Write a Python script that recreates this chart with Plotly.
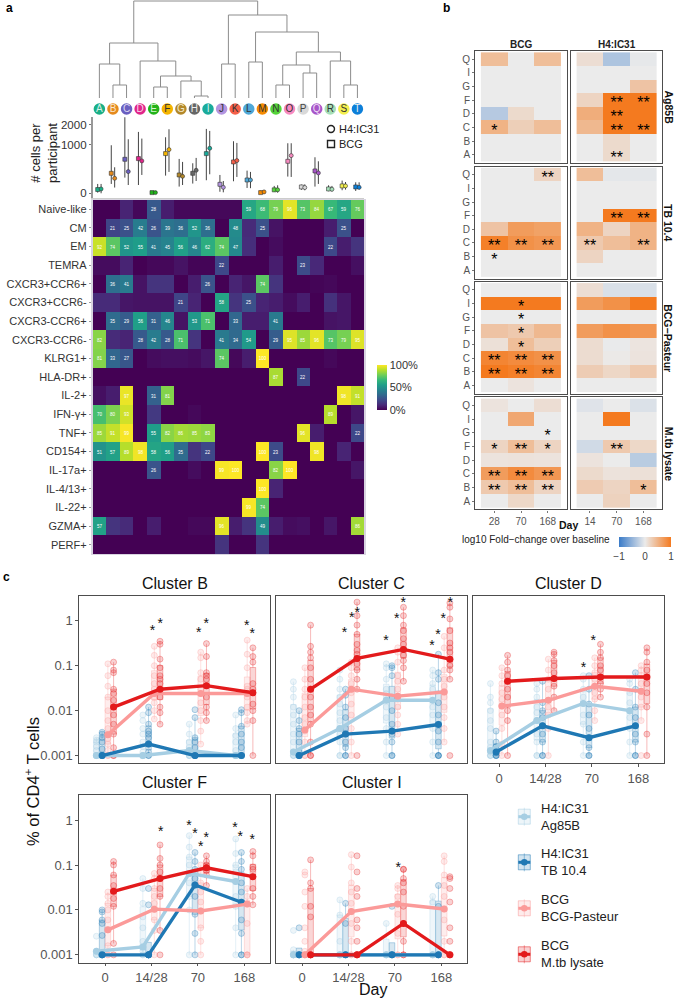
import numpy as np
import plotly.graph_objects as go

W, H = 675, 999

# Panel a: clusters, phenotypes and % of cells per cluster
CLUSTERS = list("ABCDEFGHIJKLMNOPQRST")
CLUSTER_COLORS = ["#1aaf86", "#e58a1d", "#6a5fc0", "#e0268a", "#22b31a", "#f5b400", "#b3882a", "#666666",
                  "#1aab9b", "#b394e0", "#f5604a", "#4fa8d8", "#f58a00", "#55d43a", "#f78ac0", "#d9d9d9",
                  "#a855c8", "#a5dfb8", "#f3ef4e", "#0c7fd9"]
LETTER_COLORS = ["#d8f0e8", "#fbe6cc", "#dcd8f2", "#fbd8ea", "#d8f5d5", "#333333", "#f2e8cc", "#eeeeee",
                 "#d8f2ee", "#333333", "#333333", "#333333", "#333333", "#333333", "#333333", "#444444",
                 "#eeddf5", "#333333", "#333333", "#eeeeee"]
PHENOTYPES = ["Naive-like", "CM", "EM", "TEMRA", "CXCR3+CCR6+", "CXCR3+CCR6-", "CXCR3-CCR6+", "CXCR3-CCR6-",
              "KLRG1+", "HLA-DR+", "IL-2+", "IFN-γ+", "TNF+", "CD154+", "IL-17a+", "IL-4/13+", "IL-22+",
              "GZMA+", "PERF+"]
PHENOTYPE_PCT = [
    [0, 0, 10, 2, 28, 8, 2, 2, 2, 2, 2, 59, 68, 79, 96, 73, 84, 67, 59, 76],
    [0, 21, 25, 42, 26, 39, 36, 52, 36, 0, 48, 12, 25, 5, 0, 0, 0, 8, 25, 0],
    [92, 74, 52, 55, 41, 45, 56, 46, 62, 74, 47, 13, 0, 3, 0, 0, 0, 22, 8, 15],
    [3, 3, 10, 0, 2, 2, 5, 1, 1, 22, 0, 0, 0, 8, 0, 23, 11, 0, 0, 4],
    [0, 36, 41, 5, 15, 15, 0, 8, 26, 0, 10, 6, 74, 15, 0, 0, 1, 2, 0, 0],
    [12, 12, 6, 5, 5, 5, 21, 10, 0, 58, 15, 25, 10, 8, 3, 8, 0, 14, 6, 0],
    [0, 35, 29, 56, 31, 46, 5, 53, 71, 0, 33, 8, 8, 41, 0, 0, 0, 5, 6, 0],
    [82, 12, 10, 28, 42, 28, 71, 15, 0, 41, 34, 54, 0, 29, 95, 85, 96, 73, 79, 95],
    [81, 33, 27, 0, 3, 4, 4, 3, 6, 74, 2, 8, 100, 0, 0, 0, 0, 2, 0, 0],
    [0, 0, 0, 0, 0, 0, 0, 0, 0, 0, 0, 0, 0, 87, 0, 22, 0, 0, 0, 0],
    [4, 8, 97, 0, 31, 81, 0, 0, 0, 0, 0, 0, 0, 0, 0, 0, 0, 0, 98, 91],
    [70, 80, 93, 0, 17, 0, 0, 2, 0, 0, 0, 0, 0, 0, 0, 0, 0, 89, 0, 6],
    [85, 91, 99, 0, 55, 82, 86, 85, 83, 0, 0, 0, 0, 0, 0, 96, 8, 0, 0, 22],
    [51, 57, 89, 98, 58, 56, 35, 15, 22, 0, 0, 0, 100, 23, 0, 0, 98, 0, 10, 0],
    [0, 0, 0, 0, 26, 0, 0, 3, 0, 99, 100, 0, 0, 82, 100, 0, 0, 0, 0, 6],
    [0, 0, 0, 0, 0, 0, 0, 0, 0, 0, 0, 0, 100, 10, 0, 0, 0, 0, 0, 0],
    [0, 0, 0, 0, 0, 0, 0, 0, 0, 0, 0, 99, 74, 0, 0, 0, 0, 0, 0, 0],
    [57, 15, 12, 0, 8, 0, 0, 2, 2, 96, 8, 15, 49, 8, 3, 4, 0, 6, 0, 86],
    [0, 0, 0, 0, 0, 0, 0, 0, 0, 15, 0, 0, 15, 0, 0, 0, 0, 0, 0, 0],
]
# dendrogram merges: (left, right, height); names are leaves or earlier merges
MERGES = [("B", "C", 13), ("A", "m0", 34), ("H", "I", 2), ("G", "m2", 17), ("E", "F", 11), ("m4", "m3", 22),
          ("D", "m5", 37), ("m1", "m6", 55), ("J", "K", 34), ("L", "M", 36), ("N", "O", 13), ("P", "Q", 25),
          ("m10", "m11", 33), ("S", "T", 13), ("R", "m13", 37), ("m12", "m14", 46), ("m9", "m15", 66),
          ("m8", "m16", 83), ("m7", "m17", 97)]
# cells per participant: median, low, high
CELLS_BCG_MED = [6, 169, 489, 509, 0.2, 666, 142, 169, 666, 34, 416, 75, 0.2, 5, 433, 17, 211, 8, 23, 17]
CELLS_BCG_LO = [0.2, 37, 104, 29, 0, 132, 19, 40, 72, 1, 61, 12, 0, 0.8, 118, 5, 19, 1.7, 4, 2.3]
CELLS_BCG_HI = [37, 975, 2445, 1592, 1.7, 1328, 499, 381, 1752, 142, 1145, 217, 3, 23, 1058, 32, 549, 27, 68, 51]
CELLS_H4_MED = [8, 95, 199, 443, 0.2, 807, 122, 224, 857, 15, 452, 75, 0.8, 5, 601, 14, 175, 7, 23, 15]
CELLS_H4_LO = [0, 14, 29, 142, 0, 193, 29, 64, 153, 0.4, 113, 11, 0, 0.2, 113, 3.8, 37, 1.2, 5.7, 5.7]
CELLS_H4_HI = [37, 286, 1234, 1265, 0.4, 1734, 416, 529, 1645, 64, 1072, 193, 4.7, 27, 1058, 34, 433, 23, 54, 51]

# Panel b: log10 fold-change, rows top to bottom
B_ROWS = ["Q", "I", "G", "F", "D", "C", "B", "A"]
B_DAYS_BCG = ["28", "70", "168"]
B_DAYS_H4 = ["14", "70", "168"]
AG85B_BCG = [[.4, 0, .4], [0, 0, 0], [0, 0, 0], [0, 0, 0], [-.3, .15, 0], [.5, .25, .4], [0, 0, 0], [0, 0, 0]]
AG85B_H4 = [[.12, -.35, -.03], [0, 0, 0], [0, 0, .35], [.2, 1, 1], [.55, 1, 1], [.45, 1, 1], [0, .15, 0], [0, .15, 0]]
TB104_BCG = [[0, 0, .2], [0, 0, 0], [0, 0, 0], [0, 0, 0], [.35, .7, .65], [.95, .8, .75], [0, 0, 0], [0, 0, 0]]
TB104_H4 = [[.4, -.04, -.04], [0, 0, 0], [0, 0, 0], [0, 1, 1], [.5, .2, .5], [.3, .4, .5], [.2, 0, 0], [0, 0, 0]]
PASTEUR_BCG = [[0, 0, 0], [1, 1, 1], [0, 0, 0], [.35, .3, .45], [.1, .4, .25], [.9, .85, .8], [1, .95, .9], [0, .07, 0]]
PASTEUR_H4 = [[.12, -.1, -.1], [.7, .8, 1], [0, 0, 0], [.7, .8, .75], [.13, -.01, .06], [.13, .02, .07], [.27, .18, .3], [0, 0, 0]]
MTB_BCG = [[.07, 0, .12], [0, .6, 0], [0, 0, 0], [.2, .4, .2], [.07, .08, .07], [.7, .85, .75], [.3, .4, .2], [0, .17, 0]]
MTB_H4 = [[-.07, 0, -.09], [0, 1, 0], [0, 0, 0], [-.15, .3, .17], [.07, 0, -.28], [.15, .08, .1], [.28, .2, .4], [0, .22, 0]]
# significance stars: (row, column index, text)
AG85B_BCG_STARS = [("C", 0, "*")]
AG85B_H4_STARS = [("F", 1, "**"), ("F", 2, "**"), ("D", 1, "**"), ("C", 1, "**"), ("C", 2, "**"), ("A", 1, "**")]
TB104_BCG_STARS = [("Q", 2, "**"), ("C", 0, "**"), ("C", 1, "**"), ("C", 2, "**"), ("B", 0, "*")]
TB104_H4_STARS = [("F", 1, "**"), ("F", 2, "**"), ("C", 0, "**"), ("C", 2, "**")]
PASTEUR_BCG_STARS = [("I", 1, "*"), ("G", 1, "*"), ("F", 1, "*"), ("D", 1, "*"), ("C", 0, "**"), ("C", 1, "**"),
                     ("C", 2, "**"), ("B", 0, "**"), ("B", 1, "**"), ("B", 2, "**")]
PASTEUR_H4_STARS = []
MTB_BCG_STARS = [("G", 2, "*"), ("F", 0, "*"), ("F", 1, "**"), ("F", 2, "*"), ("C", 0, "**"), ("C", 1, "**"),
                 ("C", 2, "**"), ("B", 0, "**"), ("B", 1, "**"), ("B", 2, "**")]
MTB_H4_STARS = [("F", 1, "**"), ("B", 2, "*")]

# Panel c: % of CD4+ T cells, per day [0, 14/28, 70, 168]
C_DAYS = ["0", "14/28", "70", "168"]
CB_AG85B = [[.001, .001, .001, .001, .0013, .0016, .002, .0022, .0025],
            [.001, .001, .001, .0012, .0016, .002, .003, .004, .006, .008],
            [.001, .001, .001, .0012, .0015, .002, .003, .005],
            [.001, .001, .001, .0013, .002, .0028, .004, .008]]
CB_TB104 = [[.001, .001, .001, .001, .0014, .002, .0025, .003, .0033],
            [.001, .001, .0012, .0018, .0025, .003, .0035, .005, .009, .012],
            [.001, .001, .001, .001, .0015, .002, .0025, .007, .0105],
            [.001, .001, .001, .0015, .002, .003, .0045, .009, .0105]]
CB_PASTEUR = [[.001, .001, .0013, .0018, .0024, .003, .004, .006, .01, .02, .035, .06, .11],
              [.0065, .01, .015, .02, .024, .03, .04, .06, .1, .17, .27],
              [.0018, .0035, .006, .01, .015, .024, .03, .05, .07, .15, .2],
              [.005, .006, .009, .012, .02, .024, .03, .035, .09, .18, .37]]
CB_MTB = [[.001, .001, .0015, .003, .005, .008, .012, .017, .024, .03, .07, .08, .12],
          [.005, .009, .012, .02, .03, .04, .05, .06, .09, .14, .3, .35],
          [.006, .009, .012, .02, .036, .05, .06, .07, .16, .31],
          [.001, .006, .01, .014, .025, .03, .04, .12, .16, .25]]
CB_AG85B_MED = [.001, .001, .0013, .001]
CB_TB104_MED = [.001, .0018, .001, .001]
CB_PASTEUR_MED = [.0029, .024, .024, .024]
CB_MTB_MED = [.012, .03, .036, .025]
CB_STAR_X = [1.02, 1.19, 2.02, 2.18, 3.05, 3.17]
CB_STAR_Y = [.71, 1, .63, 1, .89, .6]

CC_AG85B = [[.001, .001, .001, .0012, .002, .003, .005, .008, .012, .02, .03, .044],
            [.001, .001, .002, .003, .004, .006, .009, .014, .02, .03, .05, .08],
            [.001, .002, .004, .007, .012, .017, .024, .03, .05, .09, .11],
            [.001, .002, .004, .008, .012, .017, .03, .04, .06, .08]]
CC_TB104 = [[.001, .001, .001, .0012, .002, .003, .004, .006, .01],
            [.001, .001, .0015, .002, .003, .004, .007, .012, .022, .03],
            [.001, .001, .002, .003, .0035, .005, .01, .02, .06, .09, .1],
            [.001, .001, .001, .002, .0035, .005, .008, .015, .05, .07, .18]]
CC_PASTEUR = [[.001, .001, .002, .0035, .005, .007, .012, .02, .03, .05, .09],
              [.001, .002, .004, .008, .014, .025, .03, .04, .06, .09, .12],
              [.003, .005, .008, .012, .018, .021, .03, .045, .06, .12, .2, .25],
              [.002, .004, .007, .012, .02, .026, .035, .05, .08, .25, .45]]
CC_MTB = [[.001, .001, .002, .005, .008, .012, .02, .03, .05, .09, .15, .2, .27, .8],
          [.001, .03, .05, .08, .11, .145, .18, .22, .3, .5, .8, 1.3, 2.6],
          [.045, .09, .13, .17, .23, .3, .4, .6, .8, 1.3, 2],
          [.001, .05, .08, .1, .14, .2, .25, .32, .6, 1.1, 2, 2.5]]
CC_AG85B_MED = [.0012, .004, .017, .017]
CC_TB104_MED = [.001, .003, .0035, .0049]
CC_PASTEUR_MED = [.0037, .03, .021, .026]
CC_MTB_MED = [.03, .145, .23, .14]
CC_STAR_X = [.914, 1.07, 1.19, 1.81, 2.04, 2.18, 2.8, 2.93, 3.04, 3.19]
CC_STAR_Y = [.63, 1.36, 1.76, .42, 1.29, 2.88, .32, .58, 1.32, 3.02]

CD_AG85B = [[.001, .001, .001, .0012, .0015, .002, .004, .006, .01, .015, .02, .04],
            [.001, .001, .002, .003, .006, .009, .012, .02, .03, .04],
            [.001, .002, .005, .008, .0145, .02, .03, .05, .06],
            [.001, .002, .004, .007, .01, .015, .025, .04, .05]]
CD_TB104 = [[.001, .001, .001, .0012, .0016, .002, .0035],
            [.001, .001, .002, .003, .0046, .007, .01, .015, .045],
            [.001, .001, .0015, .0025, .004, .008, .014, .03, .06],
            [.001, .001, .002, .003, .0046, .007, .012, .03, .07]]
CD_PASTEUR = [[.001, .0018, .004, .008, .0126, .018, .025, .04, .06, .09],
              [.001, .004, .008, .012, .017, .03, .05, .08, .14],
              [.006, .01, .018, .025, .035, .05, .07, .1, .15],
              [.001, .006, .012, .02, .027, .04, .06, .08, .1]]
CD_MTB = [[.001, .006, .01, .02, .03, .045, .06, .08, .12, .17],
          [.01, .02, .035, .052, .07, .1, .13, .18, .2],
          [.02, .03, .04, .056, .08, .1, .15, .2, .3],
          [.001, .003, .012, .025, .04, .056, .08, .12, .2, .25]]
CD_AG85B_MED = [.0013, .006, .0145, .01]
CD_TB104_MED = [.0012, .0046, .0025, .0046]
CD_PASTEUR_MED = [.0126, .017, .035, .027]
CD_MTB_MED = [.045, .052, .056, .056]
CD_STAR_X = [1.82, 2.03]
CD_STAR_Y = [.107, .427]

CF_AG85B = [[.001, .001, .001, .0012, .0026],
            [.001, .001, .0012, .0015, .002, .004, .007, .014, .03, .05],
            [.001, .01, .02, .04, .065, .1, .15, .25, .45],
            [.001, .004, .012, .02, .043, .07, .1, .18, .38]]
CF_TB104 = [[.001, .001, .001, .001, .0027, .005, .006, .009, .01],
            [.001, .001, .001, .001, .001, .001, .013, .03],
            [.001, .003, .008, .02, .036, .05, .08, .12, .19],
            [.001, .001, .003, .006, .0148, .025, .04, .08, .12, .19]]
CF_PASTEUR = [[.001, .001, .0016, .0036, .006, .01, .014, .02, .025],
              [.001, .0035, .006, .0104, .014, .02, .03, .05, .065],
              [.001, .002, .004, .0095, .015, .025, .04, .07, .1],
              [.001, .001, .001, .005, .0135, .02, .03]]
CF_MTB = [[.001, .0018, .012, .018, .026, .035, .06, .1, .12],
          [.001, .0035, .02, .03, .05, .07, .1, .14, .28],
          [.035, .06, .075, .087, .1, .12, .16],
          [.013, .02, .03, .055, .08, .09, .16, .2]]
CF_AG85B_MED = [.0012, .0015, .065, .043]
CF_TB104_MED = [.001, .001, .036, .0148]
CF_PASTEUR_MED = [.0036, .0104, .0095, .0135]
CF_MTB_MED = [.026, .05, .087, .055]
CF_STAR_X = [1.2, 1.81, 1.94, 2.06, 2.18, 2.8, 2.91, 3.17]
CF_STAR_Y = [.63, .87, .59, .3, .47, .79, .51, .43]

CI_AG85B = [[.001, .001, .001, .001, .0013, .0035],
            [.001, .001, .002, .0077, .0167],
            [.001, .001, .005],
            [.001, .001, .015, .02]]
CI_TB104 = [[.001, .001, .001, .004],
            [.001, .001, .005, .014],
            [.001, .001, .001, .012],
            [.001, .001, .012, .035]]
CI_PASTEUR = [[.001, .001, .0012, .002, .004, .012, .025, .06, .07],
              [.001, .001, .002, .005, .0091, .014, .025, .04, .09, .17],
              [.001, .001, .003, .008, .0135, .02, .03, .035],
              [.001, .001, .002, .006, .0105, .02, .035, .06, .12, .16]]
CI_MTB = [[.001, .001, .001, .001, .007, .012, .03, .04, .13],
          [.001, .001, .001, .002, .004, .006, .02, .03, .07, .16],
          [.001, .001, .002, .005, .012, .025, .04, .05, .08, .08],
          [.001, .001, .002, .004, .015, .03, .05, .055]]
CI_AG85B_MED = [.001, .001, .001, .001]
CI_TB104_MED = [.001, .001, .001, .001]
CI_PASTEUR_MED = [.001, .0092, .0135, .0105]
CI_MTB_MED = [.001, .001, .005, .001]
CI_STAR_X = [2.07]
CI_STAR_Y = [.104]

SERIES_NAMES = ["H4:IC31<br>Ag85B", "H4:IC31<br>TB 10.4", "BCG<br>BCG-Pasteur", "BCG<br>M.tb lysate"]
SERIES_RGB = ["166,206,227", "31,120,180", "251,154,153", "227,26,28"]
SERIES_OFFSET = [-.185, -.062, .062, .185]

fig = go.Figure()
axis_count = 1
layout = {}
shapes = []
notes = []


def X(px):
    return px / W


def Y(py):
    return 1 - py / H


# one pair of axes from a pixel box
def add_axes(x0, x1, y0, y1, xopts, yopts):
    global axis_count
    axis_count += 1
    n = axis_count
    layout[f"xaxis{n}"] = dict(domain=[X(x0), X(x1)], anchor=f"y{n}", zeroline=False, showgrid=False, **xopts)
    layout[f"yaxis{n}"] = dict(domain=[Y(y1), Y(y0)], anchor=f"x{n}", zeroline=False, showgrid=False, **yopts)
    return f"x{n}", f"y{n}"


def note(text, x, y, size, color="#222222", bold=False, angle=0, xanchor="center", align="center"):
    if bold:
        text = f"<b>{text}</b>"
    notes.append(dict(text=text, x=X(x), y=Y(y), xref="paper", yref="paper", showarrow=False, xanchor=xanchor,
                      yanchor="middle", textangle=angle, align=align, font=dict(size=size, color=color)))


HIDDEN = dict(visible=False)
COL_RANGE = [-0.5, 19.5]

# dendrogram and leaf badges
xa, ya = add_axes(92.6, 364.2, 0, 116, dict(range=COL_RANGE, **HIDDEN), dict(range=[-18, 98], **HIDDEN))
pos = {c: (i, 0) for i, c in enumerate(CLUSTERS)}
for i, (left, right, height) in enumerate(MERGES):
    (x1, h1), (x2, h2) = pos[left], pos[right]
    fig.add_trace(go.Scatter(x=[x1, x1, x2, x2], y=[h1, height, height, h2], mode="lines", xaxis=xa, yaxis=ya,
                             line=dict(color="#8c8c8c", width=1), hoverinfo="skip", showlegend=False))
    pos[f"m{i}"] = ((x1 + x2) / 2, height)
fig.add_trace(go.Scatter(x=list(range(20)), y=[-11] * 20, mode="markers+text", text=CLUSTERS, xaxis=xa, yaxis=ya,
                         marker=dict(size=11.5, color=CLUSTER_COLORS),
                         textfont=dict(size=10, color=LETTER_COLORS), textposition="middle center",
                         hoverinfo="skip", showlegend=False))

# cells per participant, on a sqrt scale
xa, ya = add_axes(92.6, 364.2, 117, 198,
                  dict(range=COL_RANGE, tickvals=list(range(20)), showticklabels=False, ticks="outside", ticklen=2,
                       tickcolor="#999999", showline=True, linecolor="#cccccc", linewidth=1),
                  dict(range=[-3.06, 49.6], tickvals=np.sqrt([0, 1000, 2000]).tolist(),
                       ticktext=["0", "1000", "2000"], ticks="outside", ticklen=2, tickcolor="#777777",
                       showline=True, linecolor="#999999", linewidth=1.5, tickfont=dict(size=11.5, color="#333333")))
for med, lo, hi, off, sym in [(CELLS_BCG_MED, CELLS_BCG_LO, CELLS_BCG_HI, -.125, "square"),
                              (CELLS_H4_MED, CELLS_H4_LO, CELLS_H4_HI, .125, "circle")]:
    m, l, h = np.sqrt(med), np.sqrt(lo), np.sqrt(hi)
    fig.add_trace(go.Scatter(x=np.arange(20) + off, y=m, mode="markers", xaxis=xa, yaxis=ya,
                             error_y=dict(type="data", symmetric=False, array=h - m, arrayminus=m - l, width=0,
                                          thickness=1, color="#444444"),
                             marker=dict(symbol=sym, size=4, color=CLUSTER_COLORS, line=dict(color="#333333", width=.6)),
                             hoverinfo="skip", showlegend=False))
for py, txt in [(129, "H4:IC31"), (144, "BCG")]:
    note(txt, 337, py, 11, xanchor="left")
shapes.append(dict(type="circle", xref="paper", yref="paper", x0=X(327.5), x1=X(334.5), y0=Y(125.5), y1=Y(132.5),
                   line=dict(color="#222222", width=1.4)))
shapes.append(dict(type="rect", xref="paper", yref="paper", x0=X(327.5), x1=X(334.5), y0=Y(140.5), y1=Y(147.5),
                   line=dict(color="#222222", width=1.4)))
note("# cells per<br>participant", 44, 153, 13, angle=-90)

# phenotype heatmap
xa, ya = add_axes(92.6, 364.2, 200, 554,
                  dict(range=COL_RANGE, showticklabels=False, showline=True, linecolor="#d8d4e0", linewidth=1,
                       mirror=True),
                  dict(range=[18.5, -0.5], tickvals=list(range(19)), ticktext=PHENOTYPES, ticks="outside", ticklen=2,
                       tickcolor="#999999", showline=True, linecolor="#d8d4e0", linewidth=1.5, mirror=True,
                       tickfont=dict(size=11, color="#333333")))
cell_text = [[str(v) if v >= 20 else "" for v in row] for row in PHENOTYPE_PCT]
fig.add_trace(go.Heatmap(z=PHENOTYPE_PCT, x=list(range(20)), y=list(range(19)), text=cell_text, texttemplate="%{text}",
                         textfont=dict(size=4.5, color="white"), coloraxis="coloraxis2", xaxis=xa, yaxis=ya,
                         hoverinfo="skip"))

# panel b grid
b_panels = [
    (AG85B_BCG, AG85B_BCG_STARS, AG85B_H4, AG85B_H4_STARS, 51, "Ag85B"),
    (TB104_BCG, TB104_BCG_STARS, TB104_H4, TB104_H4_STARS, 166.5, "TB 10.4"),
    (PASTEUR_BCG, PASTEUR_BCG_STARS, PASTEUR_H4, PASTEUR_H4_STARS, 281.7, "BCG−Pasteur"),
    (MTB_BCG, MTB_BCG_STARS, MTB_H4, MTB_H4_STARS, 397.3, "M.tb lysate"),
]
for r, (z1, st1, z2, st2, top, strip) in enumerate(b_panels):
    for c, (z, st, x0, days) in enumerate([(z1, st1, 475.3, B_DAYS_BCG), (z2, st2, 571, B_DAYS_H4)]):
        xopts = dict(range=[-.71, 2.71], showline=True, mirror=True, linecolor="#4d4d4d", linewidth=1.4,
                     tickvals=[0, 1, 2], ticktext=days, ticks="outside" if r == 3 else "", ticklen=2,
                     tickcolor="#777777", showticklabels=r == 3, tickfont=dict(size=10, color="#555555"))
        yopts = dict(range=[7.6, -.6], showline=True, mirror=True, linecolor="#4d4d4d", linewidth=1.4,
                     tickvals=list(range(8)), ticktext=B_ROWS, ticks="outside" if c == 0 else "", ticklen=2,
                     tickcolor="#777777", showticklabels=c == 0, tickfont=dict(size=10, color="#555555"))
        xa, ya = add_axes(x0, x0 + 91.4, top, top + 112, xopts, yopts)
        fig.add_trace(go.Heatmap(z=z, x=[0, 1, 2], y=list(range(8)), coloraxis="coloraxis", xaxis=xa, yaxis=ya,
                                 hoverinfo="skip"))
        if st:
            fig.add_trace(go.Scatter(x=[s[1] for s in st], y=[B_ROWS.index(s[0]) + .3 for s in st], mode="text",
                                     text=[s[2] for s in st], textposition="middle center", xaxis=xa, yaxis=ya,
                                     textfont=dict(size=16, color="black", family="Liberation Sans"),
                                     hoverinfo="skip", showlegend=False))
    note(strip, 668.5, top + 56, 10.5, color="#111111", bold=True, angle=90)
note("BCG", 521, 44, 10, color="#222222", bold=True)
note("H4:IC31", 617, 44, 10, color="#222222", bold=True)
note("Day", 568.7, 525, 10.5, color="#111111", bold=True)
note("log10 Fold−change over baseline", 612, 539, 10, xanchor="right")

# panel c facets
facets = [
    ("Cluster B", 79, 595.7, False, True, (CB_AG85B, CB_TB104, CB_PASTEUR, CB_MTB),
     (CB_AG85B_MED, CB_TB104_MED, CB_PASTEUR_MED, CB_MTB_MED), CB_STAR_X, CB_STAR_Y),
    ("Cluster C", 276, 595.7, False, False, (CC_AG85B, CC_TB104, CC_PASTEUR, CC_MTB),
     (CC_AG85B_MED, CC_TB104_MED, CC_PASTEUR_MED, CC_MTB_MED), CC_STAR_X, CC_STAR_Y),
    ("Cluster D", 473, 595.7, True, False, (CD_AG85B, CD_TB104, CD_PASTEUR, CD_MTB),
     (CD_AG85B_MED, CD_TB104_MED, CD_PASTEUR_MED, CD_MTB_MED), CD_STAR_X, CD_STAR_Y),
    ("Cluster F", 79, 795, True, True, (CF_AG85B, CF_TB104, CF_PASTEUR, CF_MTB),
     (CF_AG85B_MED, CF_TB104_MED, CF_PASTEUR_MED, CF_MTB_MED), CF_STAR_X, CF_STAR_Y),
    ("Cluster I", 276, 795, True, False, (CI_AG85B, CI_TB104, CI_PASTEUR, CI_MTB),
     (CI_AG85B_MED, CI_TB104_MED, CI_PASTEUR_MED, CI_MTB_MED), CI_STAR_X, CI_STAR_Y),
]
for title, x0, y0, show_x, show_y, points, medians, star_x, star_y in facets:
    xopts = dict(range=[-.56, 3.56], tickvals=[0, 1, 2, 3], ticktext=C_DAYS, showticklabels=show_x, showline=True,
                 mirror=True, linecolor="#4d4d4d", linewidth=1.4, ticks="outside" if show_x else "", ticklen=2.5,
                 tickcolor="#555555", tickfont=dict(size=13, color="#555555"))
    yopts = dict(type="log", range=[-3.17, .558], tickvals=[.001, .01, .1, 1], ticktext=["0.001", "0.01", "0.1", "1"],
                 showticklabels=show_y, showline=True, mirror=True, linecolor="#4d4d4d", linewidth=1.4,
                 ticks="outside" if show_y else "", ticklen=2.5, tickcolor="#555555",
                 tickfont=dict(size=13, color="#555555"))
    xa, ya = add_axes(x0, x0 + 191.3, y0, y0 + 167.5, xopts, yopts)
    note(title, x0 + 95.6, y0 - 12.5, 16, color="#111111")
    for s in range(4):
        rgb = SERIES_RGB[s]
        xs, ys = [], []
        for d in range(4):
            xs += [d + SERIES_OFFSET[s]] * len(points[s][d])
            ys += points[s][d]
        # quartiles and whiskers worked out in log space, like the points are drawn
        q1, q3, lo, hi = [], [], [], []
        for d in range(4):
            lp = np.log10(points[s][d])
            a, b = np.percentile(lp, [25, 75])
            keep = lp[(lp >= a - 1.5 * (b - a)) & (lp <= b + 1.5 * (b - a))]
            q1.append(10 ** a)
            q3.append(10 ** b)
            lo.append(10 ** keep.min())
            hi.append(10 ** keep.max())
        fig.add_trace(go.Box(x=[d + SERIES_OFFSET[s] for d in range(4)], q1=q1, median=medians[s], q3=q3, lowerfence=lo,
                             upperfence=hi, width=.12, whiskerwidth=0, fillcolor=f"rgba({rgb},.18)",
                             line=dict(color=f"rgba({rgb},.3)", width=1), marker=dict(opacity=0), boxpoints=False,
                             xaxis=xa, yaxis=ya, hoverinfo="skip", showlegend=False))
        fig.add_trace(go.Scatter(x=xs, y=ys, mode="markers", xaxis=xa, yaxis=ya,
                                 marker=dict(size=6, color=f"rgba({rgb},.2)", line=dict(color=f"rgba({rgb},.3)", width=1)),
                                 hoverinfo="skip", showlegend=False))
    for s in range(4):
        fig.add_trace(go.Scatter(x=[d + SERIES_OFFSET[s] for d in range(4)], y=medians[s], mode="lines+markers",
                                 xaxis=xa, yaxis=ya, line=dict(color=f"rgb({SERIES_RGB[s]})", width=3.4),
                                 marker=dict(size=7, color=f"rgb({SERIES_RGB[s]})"), hoverinfo="skip", showlegend=False))
    fig.add_trace(go.Scatter(x=star_x, y=[v * 10 ** -.085 for v in star_y], mode="text", text=["*"] * len(star_x),
                             textposition="middle center", xaxis=xa, yaxis=ya, hoverinfo="skip", showlegend=False,
                             textfont=dict(size=14, color="#111111", family="Liberation Sans")))
note("% of CD4<sup>+</sup> T cells", 32, 782, 16.5, color="#111111", angle=-90)
note("Day", 372.7, 989, 16, color="#111111")

# panel c legend
for name, rgb, cy in zip(SERIES_NAMES, SERIES_RGB, [816.7, 862.3, 908.3, 954.3]):
    note(name, 539.3, cy, 13, color="#222222", xanchor="left", align="left")
    shapes.append(dict(type="line", xref="paper", yref="paper", x0=X(524.3), x1=X(524.3), y0=Y(cy - 9), y1=Y(cy + 9),
                       line=dict(color=f"rgba({rgb},.4)", width=1)))
    shapes.append(dict(type="rect", xref="paper", yref="paper", x0=X(518.3), x1=X(530.3), y0=Y(cy - 7.5), y1=Y(cy + 7.5),
                       fillcolor=f"rgba({rgb},.2)", line=dict(color=f"rgba({rgb},.5)", width=1)))
    shapes.append(dict(type="line", xref="paper", yref="paper", x0=X(518.3), x1=X(530.3), y0=Y(cy), y1=Y(cy),
                       line=dict(color=f"rgb({rgb})", width=3)))
    shapes.append(dict(type="circle", xref="paper", yref="paper", x0=X(521), x1=X(527.6), y0=Y(cy - 3.3), y1=Y(cy + 3.3),
                       fillcolor=f"rgb({rgb})", line=dict(width=0)))

note("a", 4, 8, 12, color="#000000", bold=True, xanchor="left")
note("b", 441, 8, 12, color="#000000", bold=True, xanchor="left")
note("c", 1, 577, 12, color="#000000", bold=True, xanchor="left")

fig.update_layout(
    width=W, height=H, margin=dict(l=0, r=0, t=0, b=0), paper_bgcolor="white", plot_bgcolor="white",
    font=dict(family="Liberation Sans, Arial, sans-serif"), showlegend=False, shapes=shapes, annotations=notes,
    coloraxis=dict(cmin=-1, cmax=1, colorscale=[[0, "#3a7bc8"], [.5, "#ebebeb"], [1, "#f47a1f"]],
                   colorbar=dict(orientation="h", x=X(619), xanchor="left", y=Y(558), yanchor="bottom",
                                 lenmode="pixels", len=52, thicknessmode="pixels", thickness=10, xpad=0, ypad=0,
                                 tickvals=[-1, 0, 1], ticktext=["−1", "0", "1"], ticks="", outlinewidth=0,
                                 tickfont=dict(size=10, color="#444444"))),
    coloraxis2=dict(cmin=0, cmax=100, colorscale="Viridis",
                    colorbar=dict(x=X(377), xanchor="left", y=Y(365), yanchor="top", lenmode="pixels", len=45,
                                  thicknessmode="pixels", thickness=10, xpad=0, ypad=0, tickvals=[0, 50, 100],
                                  ticktext=["0%", "50%", "100%"], ticks="", outlinewidth=0,
                                  tickfont=dict(size=11, color="#333333"))),
    **layout,
)

fig.write_html("out.html", config=dict(displayModeBar=False), post_script="document.body.style.margin='0';")
